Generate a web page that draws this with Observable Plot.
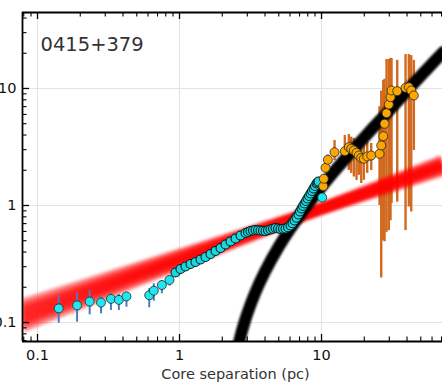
<!DOCTYPE html>
<html>
<head>
<meta charset="utf-8">
<script src="https://cdn.jsdelivr.net/npm/d3@7"></script>
<script src="https://cdn.jsdelivr.net/npm/@observablehq/plot@0.6"></script>
<style>
  html, body { margin: 0; padding: 0; background: #fff; overflow: hidden; }
</style>
</head>
<body>
<div id="chart"></div>
<script>
// Source label and axis text
const sourceName = "0415+379";
const xAxisLabel = "Core separation (pc)";
const xTickLabels = [0.1, 1, 10];
const yTickLabels = [0.1, 1, 10];
const xMinorTicks = [0.08, 0.09, 0.2, 0.3, 0.4, 0.5, 0.6, 0.7, 0.8, 0.9, 2, 3, 4, 5, 6, 7, 8, 9, 20, 30, 40, 50, 60, 70];
const yMinorTicks = [0.07, 0.08, 0.09, 0.2, 0.3, 0.4, 0.5, 0.6, 0.7, 0.8, 0.9, 2, 3, 4, 5, 6, 7, 8, 9, 20, 30, 40];

// Inner jet: isolated components with uncertainties
const cyanX  = [0.141, 0.190, 0.233, 0.280, 0.329, 0.374, 0.423, 0.612, 0.659, 0.751, 0.850];
const cyanY  = [0.132, 0.140, 0.151, 0.148, 0.159, 0.156, 0.167, 0.171, 0.187, 0.209, 0.231];
const cyanLo = [0.0986, 0.1006, 0.1164, 0.1187, 0.1267, 0.1267, 0.1351, 0.1335, 0.1521, 0.176, 0.205];
const cyanHi = [0.168, 0.178, 0.1877, 0.1668, 0.176, 0.1735, 0.1805, 0.1941, 0.2142, 0.2286, 0.250];

// Inner jet: densely sampled ridge
const ridgeX = [0.937, 1.016, 1.102, 1.195, 1.296, 1.406, 1.524, 1.653, 1.793, 1.944, 2.108, 2.287, 2.480, 2.689, 2.916, 3.037, 3.162, 3.293, 3.429, 3.571, 3.719, 3.873, 4.033, 4.200, 4.373, 4.554, 4.744, 4.939, 5.144, 5.356, 5.579, 5.808, 6.050, 6.249, 6.454, 6.668, 6.887, 7.057, 7.231, 7.408, 7.590, 7.777, 7.968, 8.166, 8.366, 8.574, 8.783, 8.999, 9.222, 9.372, 9.526];
const ridgeY = [0.2676, 0.2866, 0.3011, 0.3162, 0.3290, 0.3455, 0.3630, 0.3850, 0.4085, 0.4333, 0.4642, 0.4922, 0.5223, 0.5541, 0.5821, 0.5936, 0.6054, 0.6115, 0.6175, 0.6138, 0.6115, 0.6079, 0.6054, 0.6138, 0.6236, 0.6333, 0.6423, 0.6360, 0.6298, 0.6321, 0.6360, 0.6510, 0.6743, 0.7046, 0.7444, 0.7867, 0.8376, 0.8886, 0.9427, 0.9902, 1.040, 1.0926, 1.148, 1.2054, 1.266, 1.3302, 1.397, 1.4678, 1.542, 1.5727, 1.604];

// Last inner component
const lastCyanX = [10.11];
const lastCyanY = [1.17];

// Outer jet components with uncertainties
const orangeX  = [10.28, 10.38, 10.67, 11.08, 12.35, 14.59, 15.57, 16.19, 16.89, 17.64, 18.31, 19.04, 19.86, 20.98, 22.39, 25.62, 26.33, 27.20, 27.78, 28.70, 29.78, 30.61, 31.12, 34.13, 39.05, 41.19, 42.83, 44.67];
const orangeY  = [1.462, 1.691, 2.100, 2.459, 2.855, 2.912, 3.150, 3.052, 2.952, 2.821, 2.675, 2.557, 2.507, 2.623, 2.675, 2.766, 3.258, 3.910, 4.992, 6.150, 7.298, 8.427, 9.613, 9.482, 10.14, 10.26, 9.613, 8.713];
const orangeLo = [1.38, 1.60, 1.95, 2.25, 2.42, 2.29, 1.99, 1.88, 1.75, 1.64, 1.81, 1.54, 1.64, 1.88, 1.99, 1.00, 0.24, 0.50, 0.49, 0.59, 0.61, 0.74, 1.04, 1.07, 0.61, 0.97, 0.88, 2.95];
const orangeHi = [1.55, 1.80, 2.25, 2.70, 3.59, 3.97, 4.05, 3.84, 3.74, 3.59, 3.47, 3.39, 3.26, 3.47, 3.39, 7.0, 9.5, 11.7, 12.0, 17.7, 17.7, 18.1, 18.0, 17.4, 19.5, 19.5, 19.1, 17.4];

// Power-law fit samples: values at the left and right ends of the x range
const fitX = [0.0784, 71.1];
const fitLeftY  = [0.1425, 0.1317, 0.1229, 0.1148, 0.1071, 0.1000, 0.0924];
const fitRightY = [1.991, 2.072, 2.134, 2.197, 2.263, 2.330, 2.424];

// Outer-jet model curve
const modelX = [2.55, 2.66, 2.8, 3.0, 3.4, 4, 5, 6, 7.2, 9, 12, 16, 22, 30, 42, 55, 72];
const modelY = [0.058, 0.0723, 0.091, 0.119, 0.178, 0.273, 0.445, 0.628, 0.86, 1.23, 1.886, 2.82, 4.33, 6.49, 10.2, 14.5, 20.5];

// Tables built from the arrays
const cyan = cyanX.map((x, i) => ({x, y: cyanY[i], lo: cyanLo[i], hi: cyanHi[i]}));
const ridge = ridgeX.map((x, i) => ({x, y: ridgeY[i]}));
const lastCyan = lastCyanX.map((x, i) => ({x, y: lastCyanY[i]}));
const orange = orangeX.map((x, i) => ({x, y: orangeY[i], lo: orangeLo[i], hi: orangeHi[i]}));
const fits = fitLeftY.map((l, i) => ({l, r: fitRightY[i]}));
const model = modelX.map((x, i) => ({x, y: modelY[i]}));

const W = 442, H = 384;
const mL = 22, mT = 12, mB = 43, mR = 0;
const innerW = W - mL - mR, innerH = H - mT - mB;
const xDomain = [0.0784, 71.1];
const yDomain = [0.0688, 44.6];
const majorLen = 7, minorLen = 4.5;

const dotStyle = {r: 4.5, strokeWidth: 0.8, stroke: "#1c2a2a"};

const chart = Plot.plot({
  width: W,
  height: H,
  marginLeft: mL,
  marginTop: mT,
  marginBottom: mB,
  marginRight: mR,
  x: {type: "log", domain: xDomain, axis: null},
  y: {type: "log", domain: yDomain, axis: null},
  style: {fontFamily: "DejaVu Sans, sans-serif", background: "#fff"},
  marks: [
    // grid
    Plot.ruleX(xTickLabels, {stroke: "#e3e3e3", strokeWidth: 1}),
    Plot.ruleY(yTickLabels, {stroke: "#e3e3e3", strokeWidth: 1}),
    // outer error bars
    Plot.ruleX(orange, {x: "x", y1: "lo", y2: "hi", stroke: "#d2691e", strokeWidth: 2.4, clip: true}),
    // power-law fit samples
    Plot.link(fits, {
      x1: () => fitX[0], x2: () => fitX[1], y1: "l", y2: "r",
      stroke: "#ff0000", strokeOpacity: 0.42, strokeWidth: 12, clip: true,
      imageFilter: "blur(1.4px)"
    }),
    // inner error bars
    Plot.ruleX(cyan, {x: "x", y1: "lo", y2: "hi", stroke: "#4a7cc0", strokeWidth: 2, clip: true}),
    // model curve
    Plot.line(model, {
      x: "x", y: "y", stroke: "#000", strokeWidth: 12, curve: "catmull-rom", clip: true,
      imageFilter: "blur(1.3px)"
    }),
    // components
    Plot.dot(cyan, {x: "x", y: "y", fill: "#1fe6ef", ...dotStyle}),
    Plot.dot(ridge, {x: "x", y: "y", fill: "#1ad8e0", r: 4.5, strokeWidth: 1.1, stroke: "#0c1c1c"}),
    Plot.dot(orange, {x: "x", y: "y", fill: "#ffa500", ...dotStyle}),
    Plot.dot(lastCyan, {x: "x", y: "y", fill: "#1fe6ef", ...dotStyle}),
    // spines
    Plot.ruleX([xDomain[0]], {stroke: "#000", strokeWidth: 1.8}),
    Plot.ruleY([yDomain[0]], {stroke: "#000", strokeWidth: 1.8}),
    Plot.ruleY([yDomain[1]], {stroke: "#000", strokeWidth: 1.8}),
    // inward ticks: bottom, top, left
    Plot.ruleX(xTickLabels, {insetTop: innerH - majorLen, stroke: "#000", strokeWidth: 1.3}),
    Plot.ruleX(xMinorTicks, {insetTop: innerH - minorLen, stroke: "#000", strokeWidth: 1.1}),
    Plot.ruleX(xTickLabels, {insetBottom: innerH - majorLen, stroke: "#000", strokeWidth: 1.3}),
    Plot.ruleX(xMinorTicks, {insetBottom: innerH - minorLen, stroke: "#000", strokeWidth: 1.1}),
    Plot.ruleY(yTickLabels, {insetRight: innerW - majorLen, stroke: "#000", strokeWidth: 1.3}),
    Plot.ruleY(yMinorTicks, {insetRight: innerW - minorLen, stroke: "#000", strokeWidth: 1.1}),
    // tick labels
    Plot.text(xTickLabels, {x: d => d, text: d => String(d), frameAnchor: "bottom", lineAnchor: "top", dy: 8, fontSize: 14.5, fill: "#111"}),
    Plot.text(yTickLabels, {y: d => d, text: d => String(d), frameAnchor: "left", textAnchor: "end", dx: -6, fontSize: 14.5, fill: "#111"}),
    // axis label
    Plot.text([xAxisLabel], {frameAnchor: "bottom", lineAnchor: "top", dy: 27, dx: 3, fontSize: 14.5, fill: "#333"}),
    // source name
    Plot.text([sourceName], {frameAnchor: "top-left", textAnchor: "start", lineAnchor: "top", dx: 18, dy: 25, fontSize: 19.5, fill: "#333"})
  ]
});

document.getElementById("chart").appendChild(chart);
</script>
</body>
</html>
